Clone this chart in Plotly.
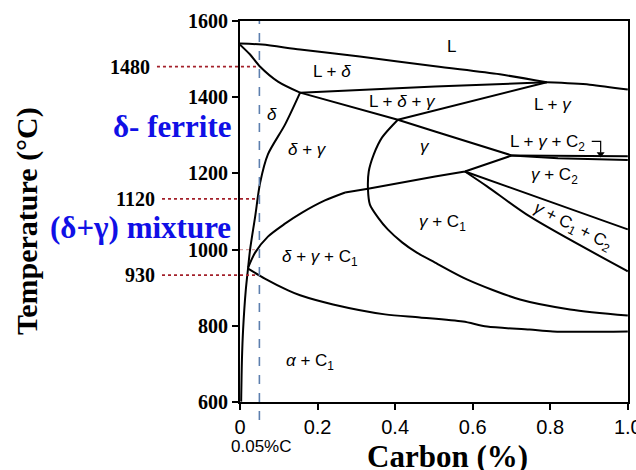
import plotly.graph_objects as go

# ---------------- data (x = carbon %, T = temperature °C) ----------------
x_ticks = [0, 0.2, 0.4, 0.6, 0.8, 1.0]
x_ticktext = ["0", "0.2", "0.4", "0.6", "0.8", "1.0"]
y_ticks = [600, 800, 1000, 1200, 1400, 1600]

liq_left_x = [0, 0.057, 0.155, 0.309, 0.503, 0.670, 0.791]
liq_left_T = [1541, 1538, 1525, 1507, 1481, 1460, 1439]
liq_right_x = [0.791, 0.902, 1.0]
liq_right_T = [1439, 1433, 1420]

sol_delta_x = [0, 0.026, 0.052, 0.098, 0.155]
sol_delta_T = [1538, 1512, 1480, 1441, 1412]

perit_top_x = [0.155, 0.503, 0.791]
perit_top_T = [1412, 1428, 1439]
perit_low_x = [0.155, 0.407, 0.503, 0.701]
perit_low_T = [1412, 1341, 1310, 1247]
gamma_apex_x = [0.407, 0.791]
gamma_apex_T = [1341, 1439]

l_g_c2_top_x = [0.701, 1.0]
l_g_c2_top_T = [1247, 1245]
l_g_c2_low_x = [0.701, 0.82, 1.0]
l_g_c2_low_T = [1247, 1240, 1235]

c1_curve_x = [0.021, 0.039, 0.072, 0.116, 0.160, 0.219, 0.271]
c1_curve_T = [953, 992, 1034, 1068, 1097, 1129, 1150]
c1_line_x = [0.271, 0.330, 0.503, 0.580, 0.701]
c1_line_T = [1150, 1160, 1192, 1205, 1247]

delta_x = [0.155, 0.116, 0.072, 0.052, 0.039, 0.026, 0.021, 0.015, 0.008, 0.005, 0.003]
delta_T = [1412, 1328, 1250, 1176, 1086, 1000, 953, 895, 790, 711, 601]

gamma_loop_x = [0.407, 0.366, 0.345, 0.332, 0.330, 0.335, 0.356, 0.381, 0.418,
                0.456, 0.503, 0.585, 0.722, 0.851, 1.0]
gamma_loop_T = [1341, 1294, 1250, 1205, 1158, 1118, 1084, 1053, 1019,
                992, 966, 922, 869, 843, 827]

eutectoid_x = [0.021, 0.064, 0.124, 0.155, 0.240, 0.374, 0.464, 0.575, 0.637, 0.747, 0.807, 1.0]
eutectoid_T = [950, 924, 893, 880, 856, 830, 822, 811, 798, 790, 785, 785]

gc2_top_x = [0.580, 1.0]
gc2_top_T = [1205, 1053]
gc2_low_x = [0.580, 0.637, 0.747, 1.0]
gc2_low_T = [1205, 1166, 1087, 943]

bracket_x = [0.907, 0.930, 0.930]
bracket_T = [1284, 1284, 1254]

phase_text = ["L", "L + <i>δ</i>", "L + <i>δ</i> + <i>γ</i>", "L + <i>γ</i>", "<i>δ</i>",
              "<i>δ</i> + <i>γ</i>", "<i>γ</i>", "L + <i>γ</i> + C<sub>2</sub>",
              "<i>γ</i> + C<sub>2</sub>", "<i>γ</i> + C<sub>1</sub>",
              "<i>δ</i> + <i>γ</i> + C<sub>1</sub>", "<i>α</i> + C<sub>1</sub>"]
phase_x = [0.546, 0.237, 0.418, 0.807, 0.082, 0.173, 0.477, 0.794, 0.812, 0.523, 0.206, 0.180]
phase_T = [1533, 1467, 1389, 1381, 1355, 1263, 1271, 1281, 1192, 1071, 979, 706]

rot_text = "<i>γ</i> + C<sub>1</sub> + C<sub>2</sub>"
rot_x, rot_T = 0.858, 1060

ref_labels = ["1480", "1120", "930"]
ref_line_T = [1480, 1133, 933]
ref_line_start = [-0.214, -0.201, -0.201]
carbon_mark = 0.05

# ---------------- figure ----------------
fig = go.Figure()

def boundary(xs, ts, smooth=True):
    fig.add_trace(go.Scatter(
        x=xs, y=ts, mode="lines",
        line=dict(color="black", width=2, shape="spline" if smooth else "linear",
                  smoothing=0.8),
        hoverinfo="skip", showlegend=False))

boundary(liq_left_x, liq_left_T)
boundary(liq_right_x, liq_right_T)
boundary(sol_delta_x, sol_delta_T)
boundary(perit_top_x, perit_top_T, False)
boundary(perit_low_x, perit_low_T, False)
boundary(gamma_apex_x, gamma_apex_T, False)
boundary(l_g_c2_top_x, l_g_c2_top_T, False)
boundary(l_g_c2_low_x, l_g_c2_low_T, False)
boundary(c1_curve_x, c1_curve_T)
boundary(c1_line_x, c1_line_T, False)
boundary(delta_x, delta_T)
boundary(gamma_loop_x, gamma_loop_T)
boundary(eutectoid_x, eutectoid_T)
boundary(gc2_top_x, gc2_top_T, False)
boundary(gc2_low_x, gc2_low_T)

fig.add_trace(go.Scatter(x=bracket_x, y=bracket_T, mode="lines",
                         line=dict(color="black", width=1.2),
                         hoverinfo="skip", showlegend=False))
fig.add_trace(go.Scatter(x=[bracket_x[-1]], y=[bracket_T[-1] - 3], mode="markers",
                         marker=dict(symbol="triangle-down", size=7, color="black"),
                         hoverinfo="skip", showlegend=False))

# dashed 0.05 %C line
fig.add_shape(type="line", xref="x", yref="paper", x0=carbon_mark, x1=carbon_mark,
              y0=-0.047, y1=1.0, line=dict(color="#5d7fae", width=1.6, dash="dash"))

# red dotted reference lines
for t, x0 in zip(ref_line_T, ref_line_start):
    fig.add_shape(type="line", xref="paper", yref="y", x0=x0, x1=0.047, y0=t, y1=t,
                  line=dict(color="#a3202a", width=1.8, dash="dot"))
fig.add_shape(type="line", xref="paper", yref="y", x0=0.0, x1=0.047, y0=1000, y1=1000,
              line=dict(color="#c06060", width=1.2, dash="dot"), opacity=0.6)

ann = []
for txt, xx, tt in zip(phase_text, phase_x, phase_T):
    ann.append(dict(x=xx, y=tt, xref="x", yref="y", text=txt, showarrow=False,
                    xanchor="center", yanchor="middle",
                    font=dict(family="Liberation Sans", size=17, color="black")))
ann.append(dict(x=rot_x, y=rot_T, xref="x", yref="y", text=rot_text, showarrow=False,
                xanchor="center", yanchor="middle", textangle=27,
                font=dict(family="Liberation Sans", size=17, color="black")))

for lab, t, x0 in zip(ref_labels, ref_line_T, ref_line_start):
    ann.append(dict(x=x0 - 0.012, y=t, xref="paper", yref="y", text=lab, showarrow=False,
                    xanchor="right", yanchor="middle",
                    font=dict(family="Liberation Serif", size=20, color="black", weight="bold")))

ann.append(dict(x=-0.175, y=1322, xref="paper", yref="y", text="δ- ferrite", showarrow=False,
                xanchor="center", yanchor="middle",
                font=dict(family="Liberation Serif", size=31, color="#1010e6", weight="bold")))
ann.append(dict(x=-0.256, y=1058, xref="paper", yref="y", text="(δ+γ) mixture", showarrow=False,
                xanchor="center", yanchor="middle",
                font=dict(family="Liberation Serif", size=31, color="#1010e6", weight="bold")))
ann.append(dict(x=carbon_mark + 0.004, y=-0.117, xref="x", yref="paper", text="0.05%C",
                showarrow=False, xanchor="center", yanchor="middle",
                font=dict(family="Liberation Sans", size=17, color="black")))
ann.append(dict(x=0.536, y=-0.142, xref="paper", yref="paper", text="Carbon (%)",
                showarrow=False, xanchor="center", yanchor="middle",
                font=dict(family="Liberation Serif", size=31, color="black", weight="bold")))
ann.append(dict(x=-0.549, y=0.475, xref="paper", yref="paper", text="Temperature (°C)",
                showarrow=False, textangle=-90, xanchor="center", yanchor="middle",
                font=dict(family="Liberation Serif", size=30, color="black", weight="bold")))

fig.update_layout(
    width=636, height=470,
    margin=dict(l=240, r=8, t=21, b=68, autoexpand=False),
    paper_bgcolor="white", plot_bgcolor="white",
    showlegend=False,
    annotations=ann,
    xaxis=dict(range=[0, 1.0005], tickvals=x_ticks, ticktext=x_ticktext,
               ticklabeloverflow="allow", automargin=False,
               ticks="outside", ticklen=6, tickwidth=1.5, tickcolor="black",
               showline=True, linewidth=2, linecolor="black", mirror=True,
               showgrid=False, zeroline=False,
               tickfont=dict(family="Liberation Sans", size=20, color="black")),
    yaxis=dict(range=[600, 1600], tickvals=y_ticks, automargin=False,
               ticks="outside", ticklen=6, tickwidth=1.5, tickcolor="black",
               showline=True, linewidth=2, linecolor="black", mirror=True,
               showgrid=False, zeroline=False,
               tickfont=dict(family="Liberation Serif", size=20, color="black", weight="bold")),
)

fig.write_html("out.html")
